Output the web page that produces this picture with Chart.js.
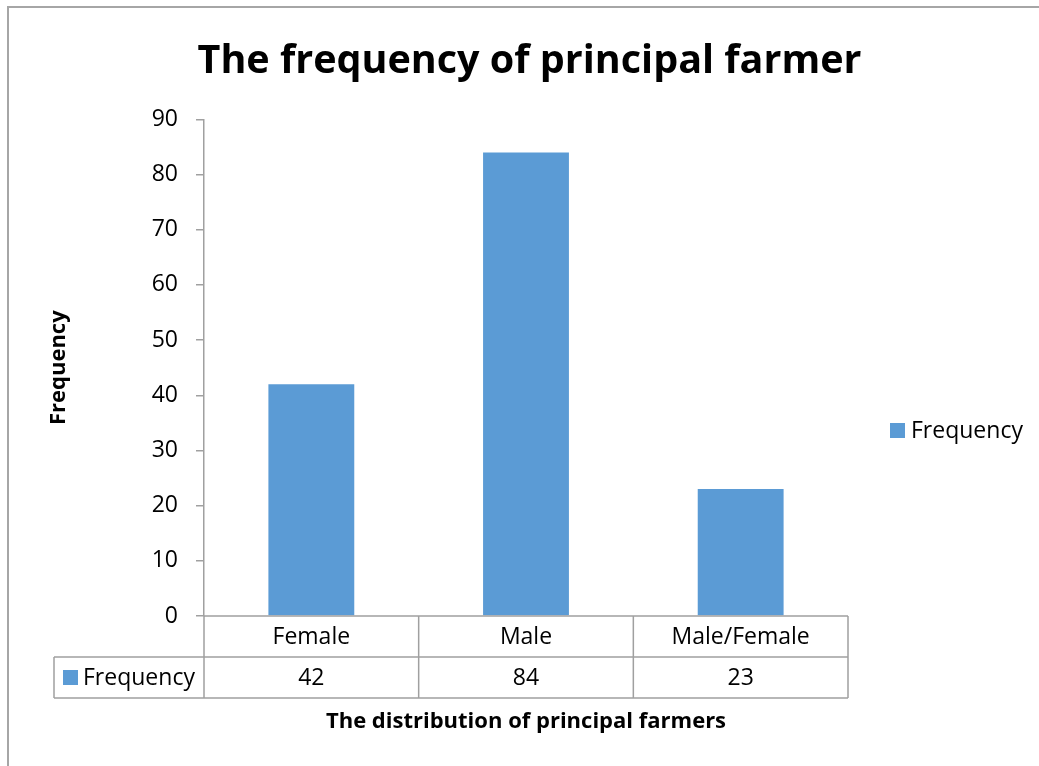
<!DOCTYPE html>
<html>
<head>
<meta charset="utf-8">
<script src="https://cdn.jsdelivr.net/npm/chart.js@4.4.1/dist/chart.umd.min.js"></script>
<style>
  html, body { margin: 0; padding: 0; background: #fff; }
  #wrap { position: relative; width: 1039px; height: 766px; }
  #frame { position: absolute; left: 7px; top: 6px; right: 0; bottom: 0;
           border-top: 2px solid #a6a6a6; border-left: 2px solid #a6a6a6; pointer-events: none; }
  canvas { position: absolute; left: 0; top: 0; }
</style>
</head>
<body>
<div id="wrap">
  <canvas id="farmerChart" width="1039" height="766"></canvas>
  <div id="frame"></div>
</div>
<script>
// ─── Data ─────────────────────────────────────────────
const categories  = ['Female', 'Male', 'Male/Female'];
const frequencies = [42, 84, 23];
const seriesName  = 'Frequency';
const yTicks      = [0, 10, 20, 30, 40, 50, 60, 70, 80, 90];

const FONT     = "'Open Sans', sans-serif";
const BAR_BLUE = '#5b9bd5';
const LINE     = '#a0a0a0';

// ─── Data table + legend (Excel style) ────────────────
const tablePlugin = {
    id: 'dataTable',
    afterDraw(chart) {
        const { ctx, chartArea: ca, scales: { x } } = chart;
        const rowH  = 41;
        const top   = ca.bottom;
        const mid   = top + rowH;
        const bot   = mid + rowH;
        const legL  = 54;
        const step  = (ca.right - ca.left) / categories.length;

        ctx.save();
        ctx.strokeStyle = LINE;
        ctx.lineWidth = 1.5;
        ctx.beginPath();
        // horizontal lines
        ctx.moveTo(ca.left, top);  ctx.lineTo(ca.right, top);
        ctx.moveTo(legL, mid);     ctx.lineTo(ca.right, mid);
        ctx.moveTo(legL, bot);     ctx.lineTo(ca.right, bot);
        // vertical lines
        ctx.moveTo(legL, mid);     ctx.lineTo(legL, bot);
        for (let i = 0; i <= categories.length; i++) {
            const xx = ca.left + step * i;
            ctx.moveTo(xx, top); ctx.lineTo(xx, bot);
        }
        ctx.stroke();

        ctx.fillStyle = '#000';
        ctx.font = `23px ${FONT}`;
        ctx.textAlign = 'center';
        ctx.textBaseline = 'middle';
        categories.forEach((c, i) => {
            const cx = x.getPixelForValue(i);
            ctx.fillText(c, cx, top + rowH / 2 + 1);
            ctx.fillText(String(frequencies[i]), cx, mid + rowH / 2 + 1);
        });

        // series key in the table
        ctx.fillStyle = BAR_BLUE;
        ctx.fillRect(63, mid + 13, 15, 15);
        ctx.fillStyle = '#000';
        ctx.textAlign = 'left';
        ctx.fillText(seriesName, 83, mid + rowH / 2 + 1);

        // legend on the right
        const ly = 430;
        ctx.fillStyle = BAR_BLUE;
        ctx.fillRect(890, ly - 7, 15, 15);
        ctx.fillStyle = '#000';
        ctx.fillText(seriesName, 911, ly + 1);
        ctx.restore();
    }
};

new Chart(document.getElementById('farmerChart'), {
    type: 'bar',
    data: {
        labels: categories,
        datasets: [{
            label: seriesName,
            data: frequencies,
            backgroundColor: BAR_BLUE,
            borderWidth: 0,
            categoryPercentage: 1,
            barPercentage: 0.4,
        }]
    },
    plugins: [tablePlugin],
    options: {
        responsive: false,
        animation: false,
        layout: { padding: { left: 20, right: 0, top: 0, bottom: 0 } },
        plugins: {
            legend: { display: false },
            tooltip: { enabled: false },
            title: {
                display: true,
                text: 'The frequency of principal farmer',
                color: '#000',
                font: { family: FONT, size: 39.5, weight: 'bold', lineHeight: 1.2 },
                padding: { top: 38, bottom: 34 }
            }
        },
        scales: {
            x: {
                grid: { display: false },
                border: { display: false },
                ticks: { display: false },
                title: {
                    display: true,
                    text: 'The distribution of principal farmers',
                    color: '#000',
                    font: { family: FONT, size: 22, weight: 'bold', lineHeight: 1.2 },
                    padding: { top: 0, bottom: 31 }
                },
                afterFit: (s) => { s.height = 150; }
            },
            y: {
                min: 0,
                max: 90,
                afterBuildTicks: (s) => { s.ticks = yTicks.map(v => ({ value: v })); },
                grid: { drawOnChartArea: false, drawTicks: true, tickLength: 8, color: LINE, lineWidth: 1.5 },
                border: { color: LINE, width: 1.5 },
                ticks: { color: '#000', padding: 18, font: { family: FONT, size: 23 } },
                title: {
                    display: true,
                    text: 'Frequency',
                    color: '#000',
                    font: { family: FONT, size: 22, weight: 'bold', lineHeight: 1.2 },
                    padding: { top: 26, bottom: 0 }
                },
                afterFit: (s) => { s.width = 184; }
            },
            // empty right-hand axis that reserves the space where the legend sits
            yRight: {
                position: 'right',
                grid: { display: false },
                border: { display: false },
                ticks: { display: false },
                afterFit: (s) => { s.width = 191; }
            }
        }
    }
});
</script>
</body>
</html>
